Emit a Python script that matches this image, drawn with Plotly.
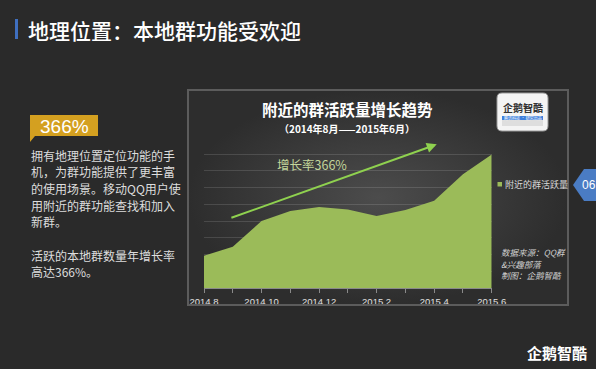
import plotly.graph_objects as go

# ---------------- data ----------------
months = ["2014.8", "2014.9", "2014.10", "2014.11", "2014.12", "2015.1",
          "2015.2", "2015.3", "2015.4", "2015.5", "2015.6"]
active_volume = [1.94, 2.48, 4.01, 4.60, 4.85, 4.69, 4.31, 4.67, 5.22, 6.80, 7.98]
series_name = "附近的群活跃量"
growth_label = "增长率366%"
arrow_start = (0.9, 4.17)
arrow_end = (8.09, 8.58)

page_title = "地理位置：本地群功能受欢迎"
chart_title = "附近的群活跃量增长趋势"
chart_subtitle = "（2014年8月——2015年6月）"
badge_text = "366%"
para_lines = ["拥有地理位置定位功能的手", "机，为群功能提供了更丰富", "的使用场景。移动QQ用户使",
              "用附近的群功能查找和加入", "新群。", "", "活跃的本地群数量年增长率", "高达366%。"]
source_lines = ["数据来源：QQ群", "&兴趣部落", "制图：企鹅智酷"]

W, H = 596, 369
CJK = "Noto Sans CJK SC, Noto Sans, sans-serif"
LAT = "Liberation Sans, Arial, Noto Sans CJK SC, sans-serif"

xs = list(range(len(months)))
ticktext = [m if i % 2 == 0 else "" for i, m in enumerate(months)]

fig = go.Figure()

# panel background (decoration axes in pixel coordinates)
fig.add_trace(go.Scatter(
    x=[188, 568, 568, 188, 188], y=[90, 90, 305, 305, 90],
    mode="lines", line=dict(width=0), fill="toself",
    fillgradient=dict(type="radial", colorscale=[[0, "#4c4c4c"], [1, "#2d2d2d"]]),
    hoverinfo="skip", showlegend=False, xaxis="x", yaxis="y"))

# area series
fig.add_trace(go.Scatter(
    x=xs, y=active_volume, name=series_name, mode="lines",
    line=dict(width=0, color="#9bbb59"), fill="tozeroy", fillcolor="#9bbb59",
    showlegend=False, xaxis="x2", yaxis="y2"))

shapes = []
# panel border
shapes.append(dict(type="rect", xref="x", yref="y", x0=188, x1=568, y0=90, y1=305,
                   line=dict(color="#5c5c5c", width=2), layer="above"))
# title bar
shapes.append(dict(type="rect", xref="x", yref="y", x0=15, x1=18, y0=19, y1=39,
                   fillcolor="#3f6fbf", line=dict(width=0)))
# gold badge
shapes.append(dict(type="path", xref="x", yref="y",
                   path="M30,115 L98,115 L98,136 L35,136 L30,142 Z",
                   fillcolor="#d4a020", line=dict(width=0)))
# blue tab
shapes.append(dict(type="path", xref="x", yref="y",
                   path="M573,185 L584,169 L596,169 L596,201 L584,201 Z",
                   fillcolor="#4a7cc4", line=dict(width=0)))
# legend swatch
shapes.append(dict(type="rect", xref="x", yref="y", x0=497.5, x1=502, y0=182, y1=186.5,
                   fillcolor="#9bbb59", line=dict(width=0), layer="above"))
# logo box
shapes.append(dict(type="path", xref="x", yref="y",
                   path="M502,93 L543,93 Q548,93 548,98 L548,126 Q548,131 543,131 L502,131 Q497,131 497,126 L497,98 Q497,93 502,93 Z",
                   fillcolor="#f4f4f4", line=dict(color="#9a9a9a", width=1), layer="above"))
shapes.append(dict(type="rect", xref="x", yref="y", x0=502, x1=543, y0=116, y1=120,
                   fillcolor="#3d7fdc", line=dict(width=0), layer="above"))
shapes.append(dict(type="rect", xref="x", yref="y", x0=502, x1=543, y0=120, y1=126,
                   fillcolor="#dedede", line=dict(width=0), layer="above"))

ann = []
def txt(x, y, s, size, color="#ffffff", family=CJK, xanchor="left", weight="normal", xref="x", yref="y"):
    ann.append(dict(x=x, y=y, xref=xref, yref=yref, text=s, showarrow=False,
                    xanchor=xanchor, yanchor="middle",
                    font=dict(size=size, color=color, family=family, weight=weight)))

txt(26, 30, page_title, 21, weight=500)
txt(64, 126.5, badge_text, 19, family=LAT, xanchor="center")
ys = [155, 171.7, 188.3, 205, 221.7, 238.3, 255, 271.7]
for line, y in zip(para_lines, ys):
    if line:
        txt(29, y, line, 12, color="#dddddd")
txt(347, 109, chart_title, 15.5, weight="bold", xanchor="center")
txt(347, 128, chart_subtitle, 10, weight="bold", xanchor="center")
txt(503, 184.5, series_name, 9, color="#d9d9d9")
for s, y in zip(source_lines, [251.5, 263.5, 275]):
    txt(499, y, f"<i>{s}</i>", 8.5, color="#d0d0d0")
txt(522.5, 107.5, "企鹅智酷", 10, color="#333333", xanchor="center", weight="bold")
txt(522.5, 118, "腾讯科技 · 研究出品", 4, color="#ffffff", xanchor="center")
txt(589, 185, "06", 12, family=LAT, xanchor="center")
txt(557, 352, "企鹅智酷", 15, xanchor="center", weight="bold")

# growth annotation + arrow in chart coordinates
txt(3.77, 7.4, growth_label, 12.5, color="#c3d69b", xanchor="center", xref="x2", yref="y2")
ann.append(dict(x=arrow_end[0], y=arrow_end[1], ax=arrow_start[0], ay=arrow_start[1],
                xref="x2", yref="y2", axref="x2", ayref="y2", text="", showarrow=True,
                arrowhead=2, arrowsize=1, arrowwidth=2, arrowcolor="#8fd14f", standoff=0))

fig.update_layout(
    width=W, height=H, margin=dict(l=0, r=0, t=0, b=0, pad=0, autoexpand=False),
    paper_bgcolor="#2a2a2a", plot_bgcolor="rgba(0,0,0,0)",
    showlegend=False, shapes=shapes, annotations=ann,
    xaxis=dict(domain=[0, 1], range=[0, W], visible=False, fixedrange=True, automargin=False),
    yaxis=dict(domain=[0, 1], range=[H, 0], visible=False, fixedrange=True, automargin=False),
    xaxis2=dict(domain=[204 / W, 491.7 / W], range=[0, len(months) - 1], anchor="y2",
                tickvals=xs, ticktext=ticktext, ticks="outside", ticklen=4, tickcolor="#8a8a8a",
                showgrid=False, showline=True, linecolor="#8a8a8a", zeroline=False,
                automargin=False, tickfont=dict(size=9.5, color="#e0e0e0", family=LAT)),
    yaxis2=dict(domain=[(H - 288.3) / H, (H - 137.3) / H], range=[0, 9], anchor="x2",
                dtick=1, showticklabels=False, showgrid=True, automargin=False,
                gridcolor="rgba(255,255,255,0.13)", zeroline=False),
)

fig.write_html("out.html")
